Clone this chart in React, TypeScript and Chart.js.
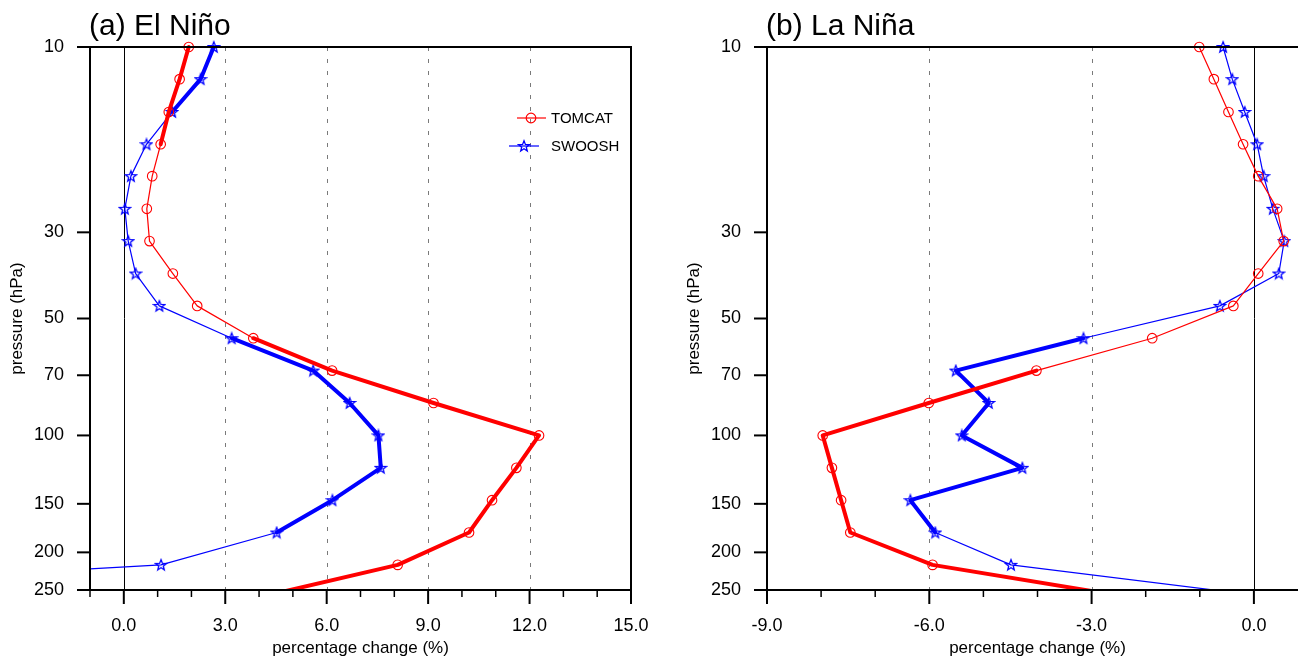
import React, { useEffect, useRef } from "react";
import { Chart, registerables } from "chart.js";

Chart.register(...registerables);

// ---------- data ----------
const pressureLevels = [10, 12.1, 14.7, 17.8, 21.5, 26.1, 31.6, 38.3, 46.4, 56.2, 68.1, 82.5, 100, 121.2, 146.8, 177.8, 215.4, 261.0];
const yTickValues = [10, 30, 50, 70, 100, 150, 200, 250];

const elNinoTomcat = [1.92, 1.65, 1.33, 1.09, 0.84, 0.68, 0.76, 1.45, 2.17, 3.83, 6.16, 9.16, 12.28, 11.61, 10.89, 10.21, 8.10, 4.0];
const elNinoSwoosh = [2.66, 2.27, 1.43, 0.67, 0.21, 0.03, 0.13, 0.35, 1.05, 3.19, 5.60, 6.68, 7.53, 7.60, 6.17, 4.52, 1.10, -16.0];
const laNinaTomcat = [-1.01, -0.74, -0.47, -0.20, 0.08, 0.43, 0.55, 0.08, -0.38, -1.88, -4.02, -6.01, -7.97, -7.80, -7.63, -7.46, -5.94, -2.30];
const laNinaSwoosh = [-0.57, -0.40, -0.17, 0.06, 0.18, 0.35, 0.56, 0.46, -0.63, -3.15, -5.51, -4.90, -5.40, -4.28, -6.35, -5.89, -4.49, 0.34];

// 1 = significant (thick) segment starting at that level
const elNinoTomcatSig = [1, 1, 1, 0, 0, 0, 0, 0, 0, 1, 1, 1, 1, 1, 1, 1, 1];
const elNinoSwooshSig = [1, 1, 0, 0, 0, 0, 0, 0, 0, 1, 1, 1, 1, 1, 1, 0, 0];
const laNinaTomcatSig = [0, 0, 0, 0, 0, 0, 0, 0, 0, 0, 1, 1, 1, 1, 1, 1, 1];
const laNinaSwooshSig = [0, 0, 0, 0, 0, 0, 0, 0, 0, 1, 1, 1, 1, 1, 1, 0, 0];

const seriesNames = ["TOMCAT", "SWOOSH"];
const xAxisTitle = "percentage change (%)";
const yAxisTitle = "pressure (hPa)";

const FONT = "'Liberation Sans', Arial, Helvetica, sans-serif";
const RED = "#ff0000";
const BLUE = "#0000ff";

function makeStar(): HTMLCanvasElement {
  const c = document.createElement("canvas");
  c.width = 14;
  c.height = 14;
  const g = c.getContext("2d")!;
  g.strokeStyle = BLUE;
  g.lineWidth = 1.3;
  g.lineJoin = "miter";
  g.beginPath();
  const cx = 7, cy = 7.4, ro = 5.6, ri = 2.4;
  for (let i = 0; i < 10; i++) {
    const r = i % 2 === 0 ? ro : ri;
    const a = -Math.PI / 2 + (i * Math.PI) / 5;
    const px = cx + r * Math.cos(a);
    const py = cy + r * Math.sin(a);
    if (i === 0) g.moveTo(px, py);
    else g.lineTo(px, py);
  }
  g.closePath();
  g.stroke();
  return c;
}

type PanelProps = {
  title: string;
  left: number;
  width: number;
  padRight: number;
  yAxisWidth: number;
  yTitlePad: number;
  xMin: number;
  xMax: number;
  dashedAt: number[];
  tomcat: number[];
  swoosh: number[];
  tomcatSig: number[];
  swooshSig: number[];
  showLegend: boolean;
};

function Panel(p: PanelProps) {
  const ref = useRef<HTMLCanvasElement | null>(null);

  useEffect(() => {
    const canvas = ref.current;
    if (!canvas) return;
    const star = makeStar();

    const overlay = {
      id: "overlay",
      beforeDatasetsDraw(chart: any) {
        const { ctx, chartArea: a, scales } = chart;
        const xs = scales.x;
        ctx.save();
        ctx.beginPath();
        ctx.rect(a.left, a.top, a.right - a.left, a.bottom - a.top);
        ctx.clip();
        ctx.lineWidth = 1;
        ctx.strokeStyle = "#7a7a7a";
        ctx.setLineDash([4, 8]);
        for (const v of p.dashedAt) {
          const x = Math.round(xs.getPixelForValue(v)) + 0.5;
          ctx.beginPath();
          ctx.moveTo(x, a.top);
          ctx.lineTo(x, a.bottom);
          ctx.stroke();
        }
        ctx.setLineDash([]);
        ctx.strokeStyle = "#000";
        const x0 = Math.round(xs.getPixelForValue(0)) + 0.5;
        ctx.beginPath();
        ctx.moveTo(x0, a.top);
        ctx.lineTo(x0, a.bottom);
        ctx.stroke();
        ctx.restore();
      },
      afterDraw(chart: any) {
        const { ctx, chartArea: a, scales } = chart;
        const xs = scales.x;
        const ys = scales.y;
        ctx.save();
        // frame
        ctx.strokeStyle = "#000";
        ctx.lineWidth = 2;
        ctx.strokeRect(a.left, a.top, a.right - a.left, a.bottom - a.top);
        // x ticks
        for (let v = p.xMin; v <= p.xMax; v += 1) {
          const major = v % 3 === 0;
          const x = xs.getPixelForValue(v);
          ctx.lineWidth = major ? 2 : 1.5;
          ctx.beginPath();
          ctx.moveTo(x, a.bottom);
          ctx.lineTo(x, a.bottom + (major ? 14 : 7));
          ctx.stroke();
        }
        // y ticks
        ctx.lineWidth = 2;
        for (const v of yTickValues) {
          const y = ys.getPixelForValue(v);
          ctx.beginPath();
          ctx.moveTo(a.left - 13, y);
          ctx.lineTo(a.left, y);
          ctx.stroke();
        }
        // title
        ctx.fillStyle = "#000";
        ctx.font = `30px ${FONT}`;
        ctx.textAlign = "left";
        ctx.textBaseline = "alphabetic";
        ctx.fillText(p.title, a.left - 1, 35);
        // legend
        if (p.showLegend) {
          const lx = a.right - 80;
          ctx.font = `15px ${FONT}`;
          ctx.textBaseline = "middle";
          // TOMCAT
          let y = a.top + 71;
          ctx.strokeStyle = RED;
          ctx.lineWidth = 1.2;
          ctx.beginPath();
          ctx.moveTo(a.right - 114, y);
          ctx.lineTo(a.right - 85, y);
          ctx.stroke();
          ctx.beginPath();
          ctx.arc(a.right - 100, y, 4.8, 0, Math.PI * 2);
          ctx.stroke();
          ctx.fillStyle = "#000";
          ctx.fillText(seriesNames[0], lx, y + 1);
          // SWOOSH
          y = a.top + 99;
          ctx.strokeStyle = BLUE;
          ctx.beginPath();
          ctx.moveTo(a.right - 122, y);
          ctx.lineTo(a.right - 92, y);
          ctx.stroke();
          ctx.drawImage(star, a.right - 107 - star.width / 2, y - star.height / 2);
          ctx.fillText(seriesNames[1], lx, y + 1);
        }
        ctx.restore();
      },
    };

    const mk = (vals: number[]) => vals.map((v, i) => ({ x: v, y: pressureLevels[i] }));

    const chart = new Chart(canvas, {
      type: "line",
      data: {
        datasets: [
          {
            label: seriesNames[0],
            data: mk(p.tomcat),
            borderColor: RED,
            borderWidth: 1.2,
            pointStyle: "circle",
            pointRadius: 4.8,
            pointBorderWidth: 1.1,
            pointBorderColor: RED,
            pointBackgroundColor: "rgba(0,0,0,0)",
            tension: 0,
            borderJoinStyle: "round",
            borderCapStyle: "round",
            clip: { left: 0, top: 12, right: 0, bottom: 0 },
            segment: {
              borderWidth: (c: any) => (p.tomcatSig[c.p0DataIndex] ? 4 : 1.2),
            },
          } as any,
          {
            label: seriesNames[1],
            data: mk(p.swoosh),
            borderColor: BLUE,
            borderWidth: 1.2,
            pointStyle: star,
            pointRadius: 5,
            pointBorderColor: BLUE,
            tension: 0,
            borderJoinStyle: "round",
            borderCapStyle: "round",
            clip: { left: 0, top: 12, right: 0, bottom: 0 },
            segment: {
              borderWidth: (c: any) => (p.swooshSig[c.p0DataIndex] ? 4 : 1.2),
            },
          } as any,
        ],
      },
      options: {
        animation: false,
        responsive: false,
        devicePixelRatio: 1,
        events: [],
        layout: { padding: { left: 0, top: 47, right: p.padRight, bottom: 0 } },
        plugins: {
          legend: { display: false },
          tooltip: { enabled: false },
          title: { display: false },
        },
        scales: {
          x: {
            type: "linear",
            min: p.xMin,
            max: p.xMax,
            grid: { display: false, drawTicks: false },
            border: { display: false },
            ticks: {
              stepSize: 1,
              autoSkip: false,
              maxRotation: 0,
              padding: 25,
              color: "#000",
              font: { family: FONT, size: 18 },
              callback: (v: any) => (Math.round(v) % 3 === 0 ? Number(v).toFixed(1) : ""),
            },
            title: {
              display: true,
              text: xAxisTitle,
              color: "#000",
              font: { family: FONT, size: 17 },
              padding: { top: 0, bottom: -1 },
            },
            afterFit: (s: any) => {
              s.height = 68;
              s.paddingLeft = 0;
              s.paddingRight = 0;
            },
          },
          y: {
            type: "logarithmic",
            reverse: true,
            min: 10,
            max: 250,
            grid: { display: false, drawTicks: false },
            border: { display: false },
            afterBuildTicks: (s: any) => {
              s.ticks = yTickValues.map((v) => ({ value: v }));
            },
            ticks: {
              autoSkip: false,
              padding: 26,
              color: "#000",
              font: { family: FONT, size: 18 },
              callback: (v: any) => String(v),
            },
            title: {
              display: true,
              text: yAxisTitle,
              color: "#000",
              font: { family: FONT, size: 17 },
              padding: { top: p.yTitlePad, bottom: 0 },
            },
            afterFit: (s: any) => {
              s.width = p.yAxisWidth;
              s.paddingTop = 0;
              s.paddingBottom = 0;
            },
          },
        },
      } as any,
      plugins: [overlay],
    });
    return () => chart.destroy();
  }, []);

  return (
    <canvas
      ref={ref}
      width={p.width}
      height={658}
      style={{ position: "absolute", left: p.left, top: 0, width: p.width, height: 658 }}
    />
  );
}

export default function App() {
  return (
    <div
      style={{
        position: "fixed",
        left: 0,
        top: 0,
        width: 1298,
        height: 658,
        overflow: "hidden",
        background: "#fff",
      }}
    >
      <Panel
        title="(a) El Niño"
        left={0}
        width={650}
        padRight={19}
        yAxisWidth={90}
        yTitlePad={7}
        xMin={-1}
        xMax={15}
        dashedAt={[3, 6, 9, 12]}
        tomcat={elNinoTomcat}
        swoosh={elNinoSwoosh}
        tomcatSig={elNinoTomcatSig}
        swooshSig={elNinoSwooshSig}
        showLegend={true}
      />
      <Panel
        title="(b) La Niña"
        left={650}
        width={700}
        padRight={42}
        yAxisWidth={117}
        yTitlePad={34}
        xMin={-9}
        xMax={1}
        dashedAt={[-6, -3]}
        tomcat={laNinaTomcat}
        swoosh={laNinaSwoosh}
        tomcatSig={laNinaTomcatSig}
        swooshSig={laNinaSwooshSig}
        showLegend={false}
      />
    </div>
  );
}
